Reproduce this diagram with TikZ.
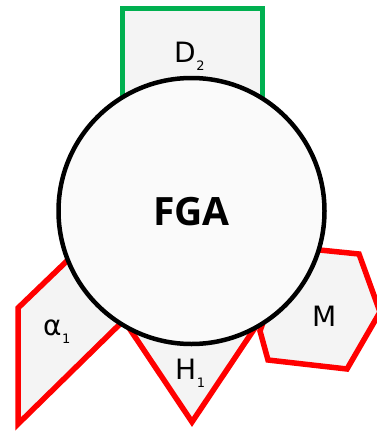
\documentclass[tikz,border=0pt]{standalone}
\usepackage{fontspec}
\setmainfont{DejaVu Sans}
\newfontfamily\fgafont{Open Sans}
\definecolor{shapefill}{RGB}{244,244,244}
\definecolor{circfill}{RGB}{250,250,250}
\definecolor{greenline}{RGB}{0,176,80}
\definecolor{redline}{RGB}{255,0,0}
\newcommand{\lbl}[2]{\fontsize{28}{28}\selectfont #1\kern0.5pt\raisebox{-8pt}{\fontsize{13}{13}\selectfont #2}}
\begin{document}
\begin{tikzpicture}[x=1pt,y=-1pt,
  greenbox/.style={draw=greenline, line width=5pt, fill=shapefill, line join=miter},
  redshape/.style={draw=redline, line width=5.5pt, fill=shapefill, line join=miter},
  bigcirc/.style={draw=black, line width=4.5pt, fill=circfill},
  lab/.style={inner sep=0pt, anchor=base west, text=black}]
\useasboundingbox (0,0) rectangle (376,431);
% shapes behind the circle
\draw[greenbox] (122,170) rectangle (262,8.5);
\draw[redshape] (18,308) -- (18,424) -- (122,322) -- (122,208) -- cycle;
\draw[redshape] (97,280) -- (287,280) -- (192,422) -- cycle;
\draw[redshape] (290,247) -- (359,254) -- (380,312) -- (347,369) -- (268,360) -- (260,331) -- cycle;
% central circle
\draw[bigcirc] (191.5,211) circle (133);
\node[inner sep=0pt, anchor=base] (fga) at (191.5,225) {\fgafont\bfseries\fontsize{39}{39}\selectfont FGA};
% labels
\node[lab] (d2) at (174,62) {\lbl{D}{2}};
\node[lab] (a1) at (43,335) {\lbl{α}{1}};
\node[lab] (h1) at (175,379) {\lbl{H}{1}};
\node[lab] (m) at (312,326) {\fontsize{28}{28}\selectfont M};
\end{tikzpicture}
\end{document}
